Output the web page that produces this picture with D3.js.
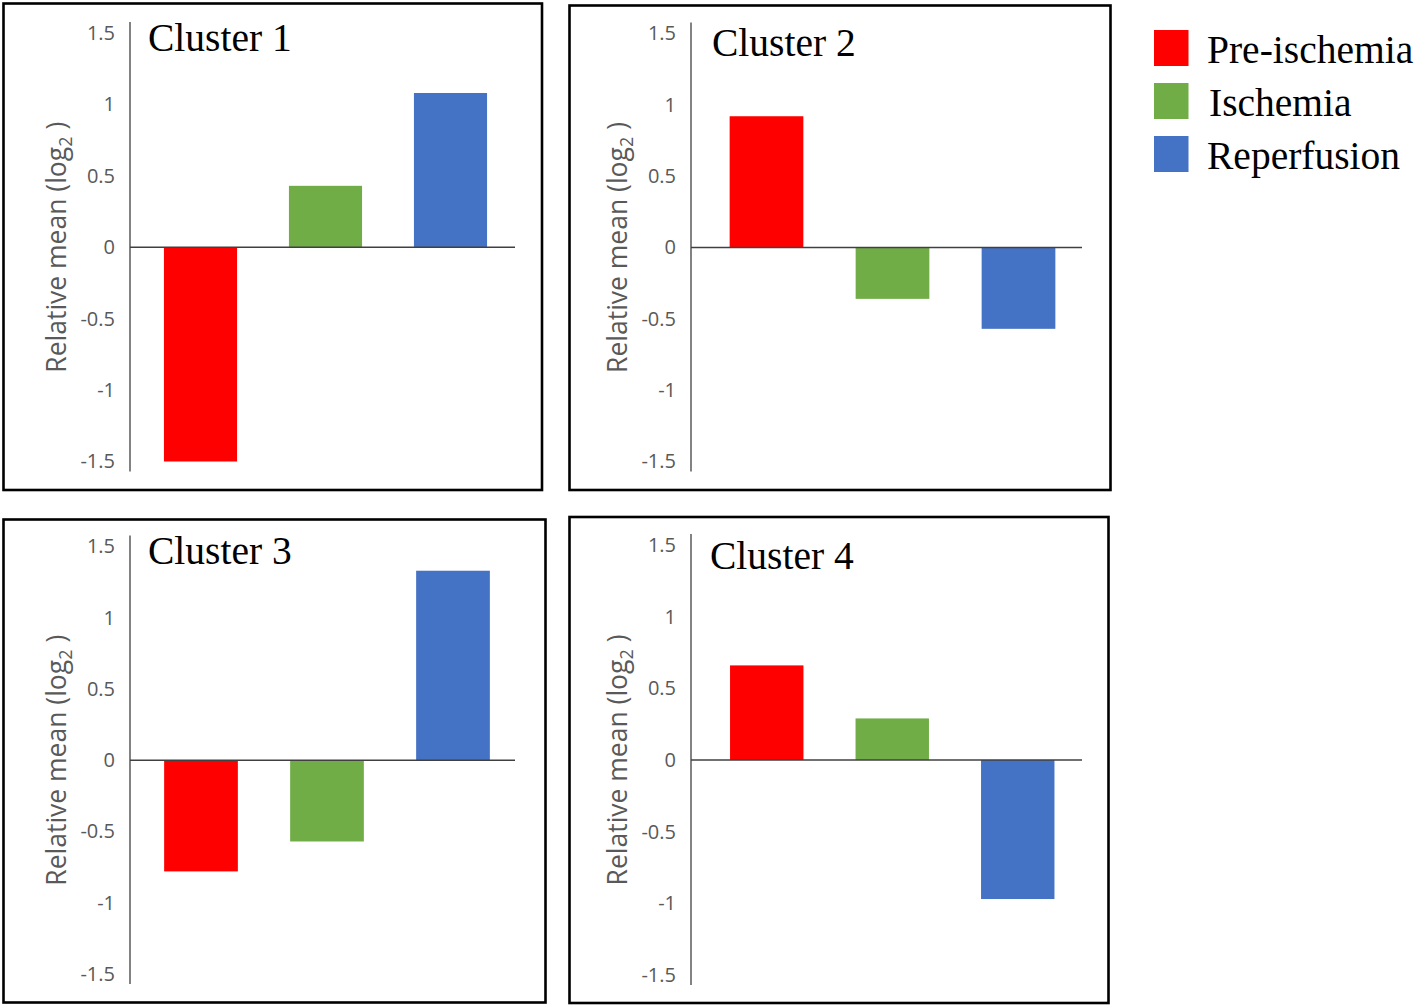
<!DOCTYPE html>
<html><head><meta charset="utf-8">
<script src="https://cdn.jsdelivr.net/npm/d3@7"></script>
<style>html,body{margin:0;padding:0;background:#fff;}svg{display:block;}</style>
</head><body>
<svg id="chart" width="1418" height="1007"></svg>
<script>
// ---- data ----
const phases = ["Pre-ischemia", "Ischemia", "Reperfusion"];
const colors = ["#FF0000", "#70AD47", "#4472C4"];
const clusters = ["Cluster 1", "Cluster 2", "Cluster 3", "Cluster 4"];
const cluster1 = [-1.50, 0.43, 1.08];
const cluster2 = [0.92, -0.36, -0.57];
const cluster3 = [-0.78, -0.57, 1.33];
const cluster4 = [0.66, 0.29, -0.97];
const values = [cluster1, cluster2, cluster3, cluster4];
const yTicks = [1.5, 1, 0.5, 0, -0.5, -1, -1.5];
const tickLabels = ["1.5", "1", "0.5", "0", "-0.5", "-1", "-1.5"];

// ---- layout (pixel geometry per panel) ----
const layout = [
  {fx:3.5, fy:3.5, fw:538.5, fh:486.5, ax:130, yTop:33, yBot:461.5, b0:138, b1:513, zEnd:515, tx:148, ty:51},
  {fx:569.5, fy:5.5, fw:541, fh:484.5, ax:691, yTop:33.5, yBot:461.5, b0:703.5, b1:1081.5, zEnd:1082, tx:712, ty:56},
  {fx:3.5, fy:519.5, fw:542, fh:483, ax:130, yTop:546.5, yBot:974, b0:138, b1:516, zEnd:515, tx:148, ty:564},
  {fx:569.5, fy:517, fw:539, fh:486, ax:691, yTop:545, yBot:975, b0:704, b1:1080.5, zEnd:1082, tx:710, ty:569}
];

const svg = d3.select("#chart");
const grey = "#595959";

clusters.forEach((name, i) => {
  const L = layout[i];
  const g = svg.append("g");
  g.append("rect").attr("x", L.fx).attr("y", L.fy).attr("width", L.fw).attr("height", L.fh)
    .attr("fill", "none").attr("stroke", "#000").attr("stroke-width", 2.6);

  const y = d3.scaleLinear().domain([-1.5, 1.5]).range([L.yBot, L.yTop]);
  const x = d3.scaleBand().domain(phases).range([L.b0, L.b1]).paddingInner(0.415).paddingOuter(0.2075);

  // bars
  g.selectAll("rect.bar").data(values[i]).enter().append("rect").attr("class", "bar")
    .attr("x", (d, j) => x(phases[j]))
    .attr("width", x.bandwidth())
    .attr("y", d => y(Math.max(0, d)))
    .attr("height", d => Math.abs(y(d) - y(0)))
    .attr("fill", (d, j) => colors[j]);

  // y axis
  const axis = d3.axisLeft(y).tickValues(yTicks).tickSize(0).tickPadding(15)
    .tickFormat((d, k) => tickLabels[k]);
  const ag = g.append("g").attr("transform", `translate(${L.ax},0)`).call(axis);
  ag.select(".domain").remove();
  ag.selectAll("text").attr("font-family", "'Open Sans', sans-serif").attr("font-size", 20).attr("fill", grey);
  g.append("line").attr("x1", L.ax).attr("x2", L.ax)
    .attr("y1", y(1.5) - 11).attr("y2", y(-1.5) + 10)
    .attr("stroke", "#404040").attr("stroke-width", 1.3);

  // zero line
  g.append("line").attr("x1", L.ax).attr("x2", L.zEnd).attr("y1", y(0)).attr("y2", y(0))
    .attr("stroke", "#404040").attr("stroke-width", 1.3);

  // y label
  const lt = g.append("text")
    .attr("transform", `translate(${L.ax - 64},${y(0)}) rotate(-90)`)
    .attr("text-anchor", "middle")
    .attr("font-family", "'Open Sans', sans-serif").attr("font-size", 26.5).attr("fill", grey);
  lt.append("tspan").text("Relative mean (log");
  lt.append("tspan").attr("font-size", 18).attr("dy", 6).text("2");
  lt.append("tspan").attr("dy", -6).text(" )");

  // title
  g.append("text").attr("x", L.tx).attr("y", L.ty)
    .attr("font-family", "'Liberation Serif', 'Times New Roman', serif").attr("font-size", 39.5)
    .attr("fill", "#000").text(name);
});

// legend
const legendY = [30, 83, 136];
const legendTextX = [1207, 1209, 1207];
const lg = svg.append("g");
phases.forEach((p, j) => {
  lg.append("rect").attr("x", 1154).attr("y", legendY[j]).attr("width", 34.5).attr("height", 36)
    .attr("fill", colors[j]);
  lg.append("text").attr("x", legendTextX[j]).attr("y", legendY[j] + 33)
    .attr("font-family", "'Liberation Serif', 'Times New Roman', serif").attr("font-size", 39.5)
    .attr("fill", "#000").text(p);
});
</script>
</body></html>
